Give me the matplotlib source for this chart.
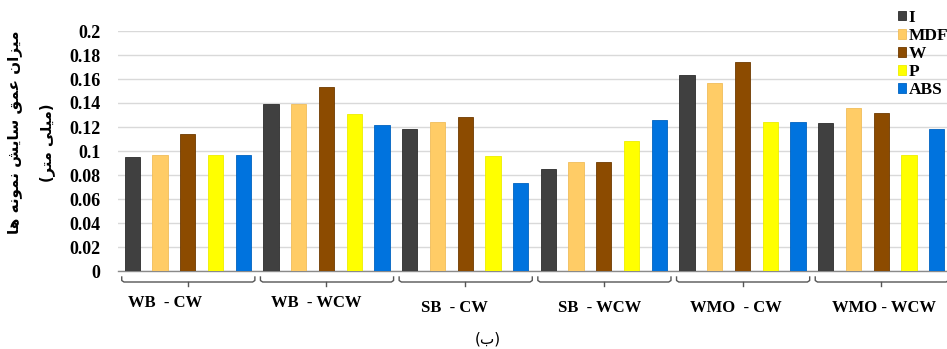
import matplotlib
matplotlib.use("Agg")
import matplotlib.pyplot as plt
import numpy as np
from matplotlib.transforms import blended_transform_factory
from matplotlib.lines import Line2D

# ---------------- data ----------------
groups = ["WB  - CW", "WB  - WCW", "SB  - CW", "SB  - WCW", "WMO  - CW", "WMO - WCW"]
series = ["I", "MDF", "W", "P", "ABS"]
vals_I = [0.095, 0.139, 0.118, 0.085, 0.163, 0.123]
vals_MDF = [0.097, 0.139, 0.124, 0.091, 0.157, 0.136]
vals_W = [0.114, 0.153, 0.128, 0.091, 0.174, 0.132]
vals_P = [0.097, 0.131, 0.096, 0.108, 0.124, 0.097]
vals_ABS = [0.097, 0.122, 0.073, 0.126, 0.124, 0.118]
yticks = [0, 0.02, 0.04, 0.06, 0.08, 0.1, 0.12, 0.14, 0.16, 0.18, 0.2]
ylabel1 = "میزان عمق سایش نمونه ها"
ylabel2 = "(میلی متر)"
caption = "(ب)"

colors = ["#404040", "#FFCC66", "#8C4B00", "#FFFF00", "#0073DE"]
edges = ["#2c2c2c", "#f0bd5a", "#6e3a00", "#eeee00", "#0062c0"]

# ---------------- Persian shaping ----------------
FORMS = {
    'ا': ('\uFE8D', '\uFE8E', None, None),
    'ب': ('\uFE8F', '\uFE90', '\uFE91', '\uFE92'),
    'ت': ('\uFE95', '\uFE96', '\uFE97', '\uFE98'),
    'ر': ('\uFEAD', '\uFEAE', None, None),
    'ز': ('\uFEAF', '\uFEB0', None, None),
    'س': ('\uFEB1', '\uFEB2', '\uFEB3', '\uFEB4'),
    'ش': ('\uFEB5', '\uFEB6', '\uFEB7', '\uFEB8'),
    'ع': ('\uFEC9', '\uFECA', '\uFECB', '\uFECC'),
    'ق': ('\uFED5', '\uFED6', '\uFED7', '\uFED8'),
    'ل': ('\uFEDD', '\uFEDE', '\uFEDF', '\uFEE0'),
    'م': ('\uFEE1', '\uFEE2', '\uFEE3', '\uFEE4'),
    'ن': ('\uFEE5', '\uFEE6', '\uFEE7', '\uFEE8'),
    'ه': ('\uFEE9', '\uFEEA', '\uFEEB', '\uFEEC'),
    'و': ('\uFEED', '\uFEEE', None, None),
    'ی': ('\uFBFC', '\uFBFD', '\uFBFE', '\uFBFF'),
}
MIRROR = {'(': ')', ')': '('}


def rtl(text):
    out = []
    n = len(text)
    for i, ch in enumerate(text):
        if ch not in FORMS:
            out.append(MIRROR.get(ch, ch))
            continue
        prev = text[i - 1] if i > 0 else None
        nxt = text[i + 1] if i < n - 1 else None
        cp = prev in FORMS and FORMS[prev][2] is not None
        cn = nxt in FORMS and FORMS[ch][2] is not None
        f = FORMS[ch]
        if cp and cn:
            out.append(f[3])
        elif cp:
            out.append(f[1])
        elif cn:
            out.append(f[2])
        else:
            out.append(f[0])
    return "".join(reversed(out))


# ---------------- figure ----------------
W, H = 947, 349
fig = plt.figure(figsize=(W / 100, H / 100), dpi=100)
ax = fig.add_axes([118.4 / W, 78 / H, (W - 118.4) / W, 240 / H])

data = np.array([vals_I, vals_MDF, vals_W, vals_P, vals_ABS])
ng, ns = len(groups), len(series)
handles = []
for s in range(ns):
    x = np.arange(ng) * ns + s
    b = ax.bar(x, data[s], width=0.55, color=colors[s], edgecolor=edges[s],
               linewidth=0.6, zorder=3, label=series[s])
    handles.append(b)

ax.set_xlim(-0.5, 29.37)
ax.set_ylim(0, 0.2)
ax.set_yticks(yticks)
ax.set_yticklabels([("%g" % t) for t in yticks], fontfamily="Liberation Serif",
                   fontweight="bold", fontsize=13)
ax.tick_params(axis="y", length=0, pad=13)
ax.set_xticks([])
ax.yaxis.grid(True, color="#d9d9d9", linewidth=1, zorder=0)
for sp in ["top", "right", "left"]:
    ax.spines[sp].set_visible(False)
ax.spines["bottom"].set_color("#8a8a8a")
ax.spines["bottom"].set_linewidth(1)

# brackets
tr = blended_transform_factory(ax.transData, fig.transFigure)
def fy(py):
    return 1 - py / H

for g in range(ng):
    x0 = g * ns - 0.5 + 0.12
    x1 = g * ns + ns - 0.5 - 0.08
    xm = g * ns + (ns - 1) / 2
    ax.add_line(Line2D([x0, x0, x0 + 0.08, x1 - 0.08, x1, x1],
                       [fy(277), fy(280.5), fy(282), fy(282), fy(280.5), fy(277)],
                       transform=tr, color="#555555", lw=1, clip_on=False))
    ax.add_line(Line2D([xm, xm], [fy(282), fy(286)], transform=tr,
                       color="#555555", lw=1, clip_on=False))

# group labels
lab_dx = [-0.8, -0.35, -0.4, -0.15, -0.25, 0.1]
lab_y = [303, 303, 308, 308, 308, 308]
for g in range(ng):
    xm = g * ns + (ns - 1) / 2 + lab_dx[g]
    ax.text(xm, fy(lab_y[g]), groups[g], transform=tr, ha="center", va="center",
            fontfamily="Liberation Serif", fontweight="bold", fontsize=12)

# y label (Persian)
fig.text(15 / W, fy(132), rtl(ylabel1), rotation=90, ha="center", va="center",
         fontfamily="DejaVu Sans", fontweight="bold", fontsize=11)
fig.text(47 / W, fy(143), rtl(ylabel2), rotation=90, ha="center", va="center",
         fontfamily="DejaVu Sans", fontweight="bold", fontsize=10.5)

# caption
fig.text(488 / W, fy(339), rtl(caption), ha="center", va="center",
         fontfamily="DejaVu Sans", fontsize=11)

# legend
fig.legend(handles=handles, labels=series, loc="upper left",
           bbox_to_anchor=(898 / W, fy(10)), frameon=False,
           prop={"family": "Liberation Serif", "weight": "bold", "size": 12.5},
           handlelength=0.45, handleheight=0.45, handletextpad=0.15,
           labelspacing=0.12, borderpad=0, borderaxespad=0)

fig.savefig("out.png", dpi=100)
